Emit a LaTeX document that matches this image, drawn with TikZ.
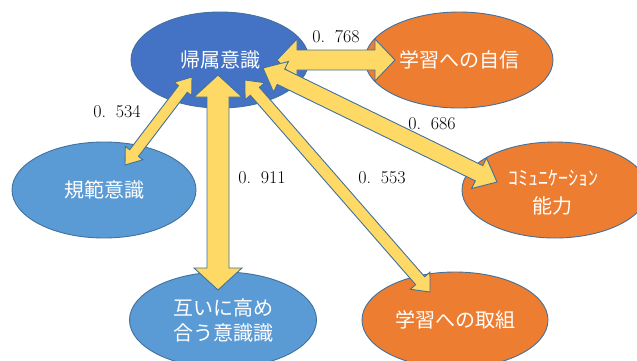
\documentclass[tikz,border=0pt]{standalone}
\usepackage{fontspec}
\newfontfamily\jp{Noto Sans CJK JP}
\usetikzlibrary{calc,shapes.geometric}
\definecolor{outl}{HTML}{41719C}
\definecolor{darkblue}{HTML}{4472C4}
\definecolor{lightblue}{HTML}{5B9BD5}
\definecolor{orng}{HTML}{ED7D31}
\definecolor{gold}{HTML}{FFD966}
\newcommand\fwdot{\makebox[0.8em][l]{.}}
\newcommand\fatarr[5]{%
 \coordinate (fa-m1) at ($(#1)!#3!(#2)$);
 \coordinate (fa-m2) at ($(#2)!#3!(#1)$);
 \filldraw[fatarrow] (#1) -- ($(fa-m1)!#4!90:(#2)$) -- ($(fa-m1)!#5!90:(#2)$)
   -- ($(fa-m2)!#5!-90:(#1)$) -- ($(fa-m2)!#4!-90:(#1)$) -- (#2)
   -- ($(fa-m2)!#4!90:(#1)$) -- ($(fa-m2)!#5!90:(#1)$)
   -- ($(fa-m1)!#5!-90:(#2)$) -- ($(fa-m1)!#4!-90:(#2)$) -- cycle;
}
\tikzset{
 bubble/.style={ellipse, draw=outl, line width=0.9pt, inner sep=0pt, text=white,
   font=\jp\fontsize{20}{25}\selectfont, align=center},
 bluebig/.style={bubble, fill=darkblue},
 bluesm/.style={bubble, fill=lightblue},
 orange/.style={bubble, fill=orng},
 fatarrow/.style={fill=gold, draw=outl, line width=0.9pt, line join=miter},
 coef/.style={font=\fontsize{18}{20}\selectfont, inner sep=0pt}
}
\begin{document}
\begin{tikzpicture}[x=1pt,y=-1pt]
\useasboundingbox (0,0) rectangle (637,360);
\clip (0,0) rectangle (637,360);
\fill[white] (0,0) rectangle (637,360);
\node[bluebig, minimum width=178pt, minimum height=96pt] (kizoku) at (220,60) {帰属意識};
\node[orange, minimum width=188pt, minimum height=96pt] (jishin) at (459,60) {学習への自信};
\node[bluesm, minimum width=184pt, minimum height=96pt] (kihan) at (104,190) {規範意識};
\node[orange, minimum width=186pt, minimum height=96pt] (comm) at (555,190) {};
\node[text=white, font=\jp\fontsize{20}{25}\selectfont, inner sep=0pt] (commA) at (553,178) {ｺﾐｭﾆｹｰｼｮﾝ};
\node[text=white, font=\jp\fontsize{20}{25}\selectfont, inner sep=0pt] (commB) at (552,206) {能力};
\node[bluesm, minimum width=187pt, minimum height=96pt] (tagai) at (223,320) {互いに高め\\合う意識識};
\node[orange, minimum width=186pt, minimum height=96pt] (torikumi) at (455,320) {学習への取組};

\coordinate (k768) at ($(kizoku.center)+(57,0)$);
\coordinate (j768) at ($(jishin.center)+(-64,0)$);
\coordinate (k534) at ($(kizoku.center)+(-28,17)$);
\coordinate (h534) at ($(kihan.center)+(21,-25)$);
\coordinate (k911) at ($(kizoku.center)+(-2,15)$);
\coordinate (t911) at ($(tagai.center)+(-5,-30)$);
\coordinate (k553) at ($(kizoku.center)+(25,20)$);
\coordinate (r553) at ($(torikumi.center)+(-25,-28)$);
\coordinate (k686) at ($(kizoku.center)+(43,8)$);
\coordinate (c686) at ($(comm.center)+(-58,-8)$);

\fatarr{k768}{j768}{20pt}{21pt}{10pt}
\fatarr{k534}{h534}{15pt}{11pt}{5.5pt}
\fatarr{k911}{t911}{22pt}{24pt}{11pt}
\fatarr{k553}{r553}{15pt}{13pt}{6pt}
\fatarr{k686}{c686}{20pt}{17pt}{8.5pt}

\node[coef] (l768) at (336,37) {0\fwdot 768};
\node[coef] (l534) at (117,112) {0\fwdot 534};
\node[coef] (l911) at (262,178) {0\fwdot 911};
\node[coef] (l686) at (432,124) {0\fwdot 686};
\node[coef] (l553) at (382,178) {0\fwdot 553};
\end{tikzpicture}
\end{document}
